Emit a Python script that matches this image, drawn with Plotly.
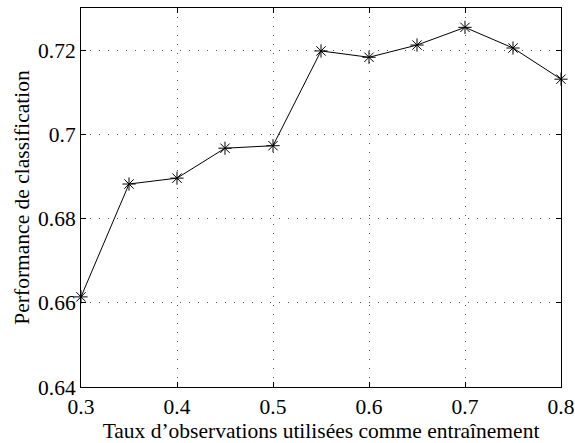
import plotly.graph_objects as go

# taux d'entrainement et performance
taux = [0.30, 0.35, 0.40, 0.45, 0.50, 0.55, 0.60, 0.65, 0.70, 0.75, 0.80]
perf = [0.6614, 0.6882, 0.6896, 0.6967, 0.6973, 0.7198, 0.7183, 0.7212, 0.7254, 0.7205, 0.7131]

x_ticks = [0.3, 0.4, 0.5, 0.6, 0.7, 0.8]
x_labels = ["0.3", "0.4", "0.5", "0.6", "0.7", "0.8"]
y_ticks = [0.64, 0.66, 0.68, 0.70, 0.72]
y_labels = ["0.64", "0.66", "0.68", "0.7", "0.72"]

police = "Liberation Serif"

fig = go.Figure()
fig.add_trace(go.Scatter(
    x=taux, y=perf, mode="lines+markers",
    line=dict(color="black", width=1),
    marker=dict(symbol="asterisk-open", size=11, color="black",
                line=dict(color="black", width=1)),
    cliponaxis=False, showlegend=False,
))

axe = dict(
    showline=True, linecolor="black", linewidth=1, mirror="ticks",
    ticks="inside", ticklen=5, tickcolor="black",
    showgrid=True, gridcolor="#555555", griddash="1px,8px", gridwidth=1,
    zeroline=False, tickfont=dict(family=police, size=21.5, color="black"),
)

fig.update_xaxes(range=[0.3, 0.8], tickvals=x_ticks, ticktext=x_labels,
                 title=dict(text="Taux d’observations utilisées comme entraînement",
                            font=dict(family=police, size=21.5, color="black"), standoff=0),
                 **axe)
fig.update_yaxes(range=[0.64, 0.73], tickvals=y_ticks, ticktext=y_labels,
                 title=dict(text="Performance de classification",
                            font=dict(family=police, size=21.5, color="black"), standoff=2),
                 **axe)

fig.update_layout(
    width=575, height=443,
    margin=dict(l=81, r=14, t=8, b=56, autoexpand=False),
    plot_bgcolor="white", paper_bgcolor="white",
)

fig.write_html("out.html", config={"displayModeBar": False},
               post_script="document.body.style.margin='0';")
